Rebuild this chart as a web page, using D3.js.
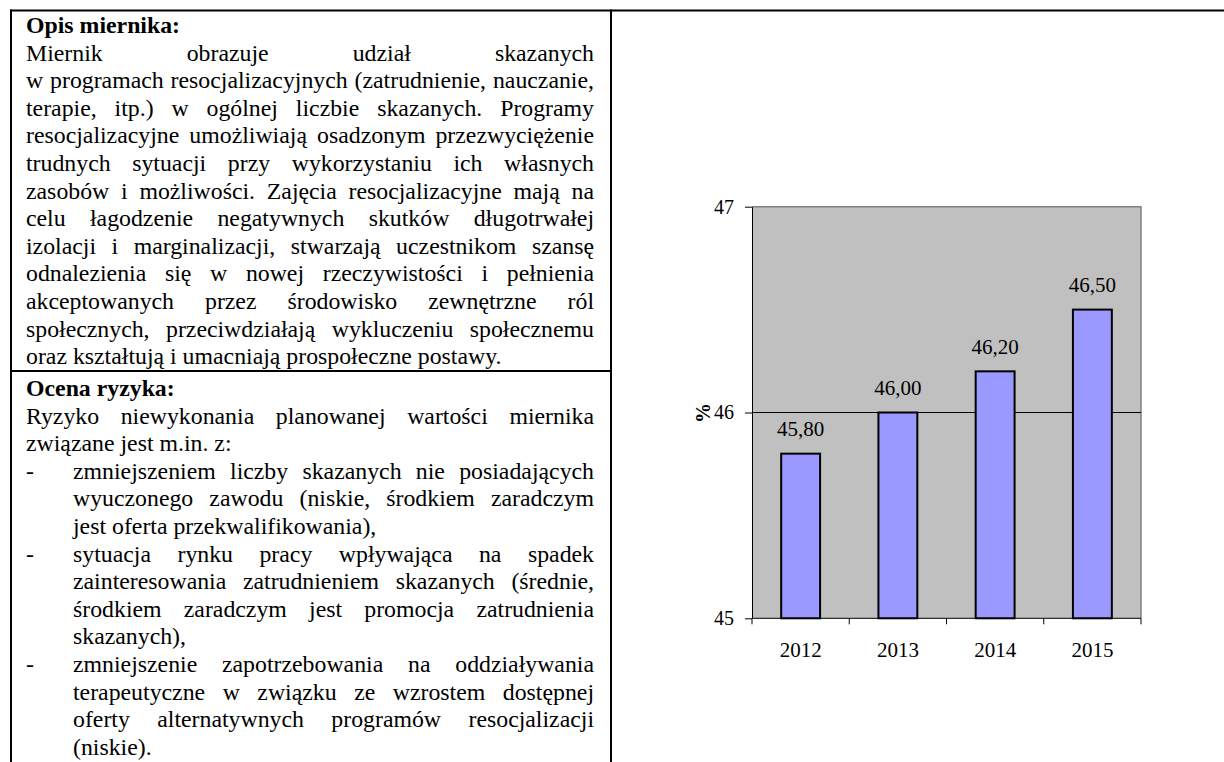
<!DOCTYPE html>
<html>
<head>
<meta charset="utf-8">
<script src="https://cdn.jsdelivr.net/npm/d3@7"></script>
<style>
  html, body { margin: 0; padding: 0; background: #fff; }
  svg { display: block; }
  svg text { font-family: "Liberation Serif", "Times New Roman", serif !important; }
</style>
</head>
<body>
<script>
// chart data
var years = ['2012', '2013', '2014', '2015'];
var values = [45.8, 46.0, 46.2, 46.5];
var yTicks = [45, 46, 47];
var valueLabels = ['45,80', '46,00', '46,20', '46,50'];

// text of the table, line by line as in the document
var opisTitle = 'Opis miernika:';
var opisLines = [
  'Miernik obrazuje udział skazanych',
  'w programach resocjalizacyjnych (zatrudnienie, nauczanie,',
  'terapie, itp.) w ogólnej liczbie skazanych. Programy',
  'resocjalizacyjne umożliwiają osadzonym przezwyciężenie',
  'trudnych sytuacji przy wykorzystaniu ich własnych',
  'zasobów i możliwości. Zajęcia resocjalizacyjne mają na',
  'celu łagodzenie negatywnych skutków długotrwałej',
  'izolacji i marginalizacji, stwarzają uczestnikom szansę',
  'odnalezienia się w nowej rzeczywistości i pełnienia',
  'akceptowanych przez środowisko zewnętrzne ról',
  'społecznych, przeciwdziałają wykluczeniu społecznemu',
  'oraz kształtują i umacniają prospołeczne postawy.'
];
var ocenaTitle = 'Ocena ryzyka:';
var ocenaLines = [
  'Ryzyko niewykonania planowanej wartości miernika',
  'związane jest m.in. z:'
];
var ocenaItems = [
  ['zmniejszeniem liczby skazanych nie posiadających',
   'wyuczonego zawodu (niskie, środkiem zaradczym',
   'jest oferta przekwalifikowania),'],
  ['sytuacja rynku pracy wpływająca na spadek',
   'zainteresowania zatrudnieniem skazanych (średnie,',
   'środkiem zaradczym jest promocja zatrudnienia',
   'skazanych),'],
  ['zmniejszenie zapotrzebowania na oddziaływania',
   'terapeutyczne w związku ze wzrostem dostępnej',
   'oferty alternatywnych programów resocjalizacji',
   '(niskie).']
];

var W = 1224, H = 762;
var serif = 'Liberation Serif';
var fs = 23.8;
var lh = 27.6;

var svg = d3.select('body').append('svg')
    .attr('width', W)
    .attr('height', H);

// table borders
var borders = svg.append('g').attr('stroke', '#000').attr('stroke-width', 2);
borders.append('line').attr('x1', 10).attr('x2', W).attr('y1', 10.5).attr('y2', 10.5);
borders.append('line').attr('x1', 11).attr('x2', 11).attr('y1', 9.5).attr('y2', H);
borders.append('line').attr('x1', 611).attr('x2', 611).attr('y1', 9.5).attr('y2', H);
borders.append('line').attr('x1', 11).attr('x2', 611).attr('y1', 371).attr('y2', 371);

var textG = svg.append('g')
    .style('font-family', serif)
    .attr('font-size', fs)
    .attr('fill', '#000');

var meas = svg.append('text')
    .style('font-family', serif)
    .attr('font-size', fs)
    .attr('visibility', 'hidden');

function textWidth(s) {
  meas.text(s);
  return meas.node().getComputedTextLength();
}

// draws one line, spread over the width when justified
function drawLine(s, x0, x1, yy, justify) {
  if (!justify) {
    textG.append('text').attr('x', x0).attr('y', yy).text(s);
    return;
  }
  var words = s.split(' ');
  var widths = words.map(textWidth);
  var total = d3.sum(widths);
  var gap = words.length > 1 ? (x1 - x0 - total) / (words.length - 1) : 0;
  var cx = x0;
  words.forEach(function(wd, i) {
    textG.append('text').attr('x', cx).attr('y', yy).text(wd);
    cx += widths[i] + gap;
  });
}

var left = 26, right = 594, indent = 73;

// Opis miernika
var yy = 33;
textG.append('text').attr('x', left).attr('y', yy)
    .attr('font-weight', 'bold').text(opisTitle);
opisLines.forEach(function(s, i) {
  yy += lh;
  drawLine(s, left, right, yy, i < opisLines.length - 1);
});

// Ocena ryzyka
yy = 396;
textG.append('text').attr('x', left).attr('y', yy)
    .attr('font-weight', 'bold').text(ocenaTitle);
ocenaLines.forEach(function(s, i) {
  yy += lh;
  drawLine(s, left, right, yy, i < ocenaLines.length - 1);
});
ocenaItems.forEach(function(item) {
  item.forEach(function(s, i) {
    yy += lh;
    if (i === 0) textG.append('text').attr('x', left).attr('y', yy).text('-');
    drawLine(s, indent, right, yy, i < item.length - 1);
  });
});

// chart
var x = d3.scaleBand()
    .domain(years)
    .range([752, 1141])
    .paddingInner(0.6)
    .paddingOuter(0.3);

var y = d3.scaleLinear()
    .domain([45, 47])
    .range([618.3, 206.7]);

var chart = svg.append('g').style('font-family', serif);

chart.append('rect')
    .attr('x', 752)
    .attr('y', y(47))
    .attr('width', 1141 - 752)
    .attr('height', y(45) - y(47))
    .attr('fill', '#c0c0c0');

// plot area border, top and right
chart.append('path')
    .attr('d', 'M752,' + y(47) + 'H1141V' + y(45))
    .attr('fill', 'none')
    .attr('stroke', '#808080')
    .attr('stroke-width', 1.5);

// gridline
chart.selectAll('.grid')
    .data(yTicks.filter(function(d) { return d > 45 && d < 47; }))
    .enter().append('line')
    .attr('x1', 752).attr('x2', 1141)
    .attr('y1', function(d) { return y(d); })
    .attr('y2', function(d) { return y(d); })
    .attr('stroke', '#000')
    .attr('stroke-width', 1);

chart.selectAll('.bar')
    .data(values)
    .enter().append('rect')
    .attr('x', function(d, i) { return x(years[i]); })
    .attr('y', function(d) { return y(d); })
    .attr('width', x.bandwidth())
    .attr('height', function(d) { return y(45) - y(d); })
    .attr('fill', '#9999ff')
    .attr('stroke', '#000')
    .attr('stroke-width', 2);

chart.selectAll('.vlabel')
    .data(values)
    .enter().append('text')
    .attr('x', function(d, i) { return x(years[i]) + x.bandwidth() / 2; })
    .attr('y', function(d) { return y(d) - 17.5; })
    .attr('text-anchor', 'middle')
    .attr('font-size', 21)
    .text(function(d, i) { return valueLabels[i]; });

// y axis
var yAxis = chart.append('g')
    .attr('transform', 'translate(752,0)')
    .call(d3.axisLeft(y).tickValues(yTicks).tickSize(7).tickSizeOuter(0)
      .tickPadding(11).tickFormat(d3.format('d')));
yAxis.select('.domain').attr('stroke', '#000');
yAxis.selectAll('.tick line').attr('stroke', '#000');
yAxis.selectAll('.tick text')
    .attr('font-size', 20)
    .attr('dy', '0.32em')
    .attr('fill', '#000');

// x axis line with ticks between categories
var xAxisG = chart.append('g');
xAxisG.append('line')
    .attr('x1', 752).attr('x2', 1141)
    .attr('y1', y(45)).attr('y2', y(45))
    .attr('stroke', '#000');
var bounds = years.map(function(d) { return x(d) - x.step() * x.paddingOuter(); });
bounds.push(x(years[years.length - 1]) + x.bandwidth() + x.step() * x.paddingOuter());
xAxisG.selectAll('.xt')
    .data(bounds)
    .enter().append('line')
    .attr('x1', function(d) { return d; })
    .attr('x2', function(d) { return d; })
    .attr('y1', y(45)).attr('y2', y(45) + 6)
    .attr('stroke', '#000');
xAxisG.selectAll('.xl')
    .data(years)
    .enter().append('text')
    .attr('x', function(d) { return x(d) + x.bandwidth() / 2; })
    .attr('y', 656.5)
    .attr('text-anchor', 'middle')
    .attr('font-size', 21)
    .text(function(d) { return d; });

chart.append('text')
    .attr('transform', 'translate(703,413) rotate(-90)')
    .attr('text-anchor', 'middle')
    .attr('dominant-baseline', 'central')
    .attr('font-weight', 'bold')
    .attr('font-size', 20)
    .text('%');
</script>
</body>
</html>
